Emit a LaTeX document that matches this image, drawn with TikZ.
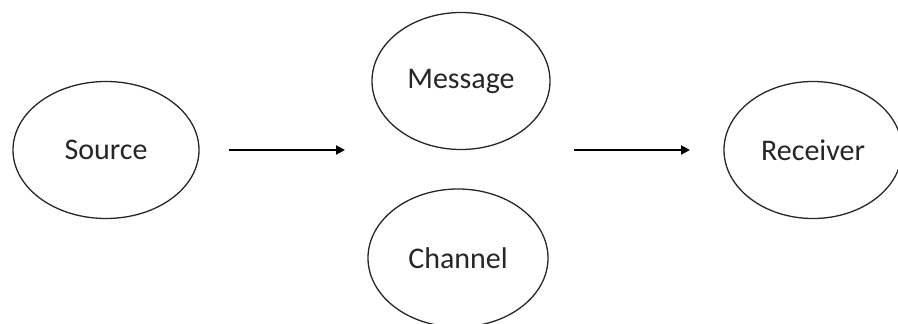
\documentclass[tikz,border=0pt]{standalone}
\usepackage{fontspec}
\setmainfont{Carlito}
\usetikzlibrary{shapes.geometric,arrows.meta}
\begin{document}
\begin{tikzpicture}[x=1pt,y=-1pt,
  oval/.style={draw=black!85, line width=1.3pt, ellipse, inner sep=0pt,
    font=\fontsize{30}{36}\selectfont, text=black!85},
  flow/.style={line width=2pt, -{Triangle[length=9pt,width=9pt]}}]
\useasboundingbox (0,0) rectangle (898,324);
\node[oval, minimum width=186pt, minimum height=137pt] (source) at (106,150) {Source};
\node[oval, minimum width=178pt, minimum height=137pt] (message) at (461,81) {Message};
\node[oval, minimum width=180pt, minimum height=138pt] (channel) at (458,258) {Channel};
\node[oval, minimum width=178pt, minimum height=137pt] (receiver) at (813,150) {Receiver};
\coordinate (a1s) at (229,150);
\coordinate (a1e) at (345,150);
\coordinate (a2s) at (574,150);
\coordinate (a2e) at (690,150);
\draw[flow] (a1s) -- (a1e);
\draw[flow] (a2s) -- (a2e);
\end{tikzpicture}
\end{document}
